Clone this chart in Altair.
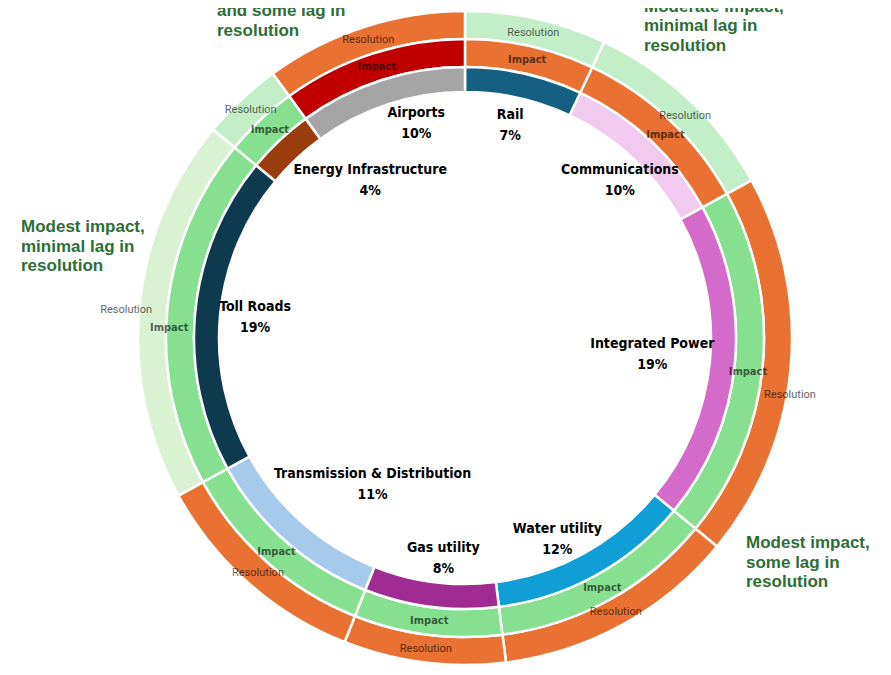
import altair as alt
import pandas as pd

# ---------------- data ----------------
sectors = ["Rail", "Communications", "Integrated Power", "Water utility", "Gas utility",
           "Transmission & Distribution", "Toll Roads", "Energy Infrastructure", "Airports"]
shares = [7, 10, 19, 12, 8, 11, 19, 4, 10]
impact_level = ["Moderate", "Moderate", "Modest", "Modest", "Modest", "Modest", "Modest", "Modest", "Significant"]
resolution_lag = ["Minimal", "Minimal", "Some", "Some", "Some", "Some", "Minimal", "Minimal", "Some"]
ring_labels = ["Impact", "Resolution"]
annotations = [
    "and some lag in\nresolution",
    "Moderate impact,\nminimal  lag in\nresolution",
    "Modest impact,\nminimal lag in\nresolution",
    "Modest impact,\nsome lag in\nresolution",
]

# ---------------- styles / layout ----------------
inner_palette = ["#156082", "#f2c9ef", "#d46bcb", "#0f9ed5", "#a02b93",
                 "#a6caec", "#0e3a50", "#9a3c0e", "#a5a5a5"]
impact_colors = {"Significant": "#c00000", "Moderate": "#e97132", "Modest": "#86e08f"}
res_colors = {"Some": "#e97132", "Minimal": "#c3efc8"}
mid_palette = [impact_colors[l] for l in impact_level]
outer_palette = [res_colors[l] for l in resolution_lag]
outer_palette[sectors.index("Toll Roads")] = "#d9f2d1"

CX, CY = 457, 330
R0, R1, R2, R3 = 246, 271, 299, 327
NARROW = "DejaVu Sans Condensed, Roboto Condensed, Roboto, sans-serif"

# label placement (angle in degrees clockwise from top, radius px)
label_pos = {
    "Rail": (12.0, 217), "Communications": (44.5, 221), "Integrated Power": (94.9, 188),
    "Water utility": (155.4, 222), "Gas utility": (185.6, 222),
    "Transmission & Distribution": (212.3, 173), "Toll Roads": (275.7, 211),
    "Energy Infrastructure": (329.0, 184), "Airports": (347.2, 220),
}
impact_r = {s: 285 for s in sectors}
impact_r["Toll Roads"] = 296
res_r = {s: 313 for s in sectors}
res_r["Toll Roads"] = 340
res_r["Integrated Power"] = 330
impact_shift = {s: 0.0 for s in sectors}      # degrees
impact_shift.update({"Integrated Power": 1.5, "Toll Roads": -3.4, "Communications": 1.5})
res_shift = {s: 0.0 for s in sectors}
res_shift.update({"Integrated Power": 4.6, "Toll Roads": -0.7, "Communications": 1.5})
annot_pos = [(209, 8), (636, 3.5), (13, 224), (738, 540)]

df = pd.DataFrame({
    "idx": range(len(sectors)),
    "sector": sectors,
    "share": shares,
    "impact": impact_level,
    "resolution": resolution_lag,
})
mid = df["share"].cumsum() - df["share"] / 2
df["imp_pos"] = mid + [impact_shift[s] / 3.6 for s in sectors]
df["res_pos"] = mid + [res_shift[s] / 3.6 for s in sectors]
df["label"] = [f"{s}\n{v}%" for s, v in zip(sectors, shares)]
df["lab_pos"] = [label_pos[s][0] / 3.6 for s in sectors]
df["lab_r"] = [label_pos[s][1] for s in sectors]
df["imp_r"] = [impact_r[s] for s in sectors]
df["res_r"] = [res_r[s] for s in sectors]
df["imp_txt"] = ring_labels[0]
df["res_txt"] = ring_labels[1]

theta_scale = alt.Scale(domain=[0, 100])
base = alt.Chart(df).encode(
    theta=alt.Theta("share:Q", stack=True, scale=theta_scale),
    order=alt.Order("idx:Q"),
    x=alt.value(CX),
    y=alt.value(CY),
)

def ring(r_in, r_out, palette):
    return base.mark_arc(radius=r_out, radius2=r_in, stroke="white", strokeWidth=2.5).encode(
        color=alt.Color("sector:N", scale=alt.Scale(domain=sectors, range=palette), legend=None)
    )

inner = ring(R0, R1, inner_palette)
middle = ring(R1, R2, mid_palette)
outer = ring(R2, R3, outer_palette)

tbase = alt.Chart(df).encode(x=alt.value(CX), y=alt.value(CY))
imp_text = tbase.mark_text(font=NARROW, fontWeight="bold", fontSize=11,
                           color="black", opacity=0.6, align="center", baseline="middle").encode(
    theta=alt.Theta("imp_pos:Q", stack=None, scale=theta_scale),
    radius=alt.Radius("imp_r:Q", scale=None), text="imp_txt:N")
res_text = tbase.mark_text(font="Roboto", fontSize=11, color="black", opacity=0.62,
                           align="center", baseline="middle").encode(
    theta=alt.Theta("res_pos:Q", stack=None, scale=theta_scale),
    radius=alt.Radius("res_r:Q", scale=None), text="res_txt:N")

cat_text = tbase.mark_text(
    font=NARROW, fontWeight="bold", fontSize=14, color="black",
    align="center", baseline="middle", lineBreak="\n", lineHeight=21, dy=-10.5,
).encode(
    theta=alt.Theta("lab_pos:Q", stack=None, scale=theta_scale),
    radius=alt.Radius("lab_r:Q", scale=None),
    text="label:N",
)

adf = pd.DataFrame({"text": annotations,
                    "px": [p[0] for p in annot_pos],
                    "py": [p[1] for p in annot_pos]})
annot = alt.Chart(adf).mark_text(
    font="Liberation Sans", fontWeight="bold", fontSize=17, color="#2e6e36",
    align="left", baseline="alphabetic", lineBreak="\n", lineHeight=19.5,
).encode(
    x=alt.X("px:Q", scale=None), y=alt.Y("py:Q", scale=None), text="text:N"
)

chart = alt.layer(outer, middle, inner, imp_text, res_text, cat_text, annot).resolve_scale(
    color="independent"
).properties(
    width=875, height=659, autosize=alt.AutoSizeParams(type="none"), padding=0,
    background="white",
).configure_view(stroke=None)

chart.save("out.html", embed_options={"renderer": "svg", "actions": False})
